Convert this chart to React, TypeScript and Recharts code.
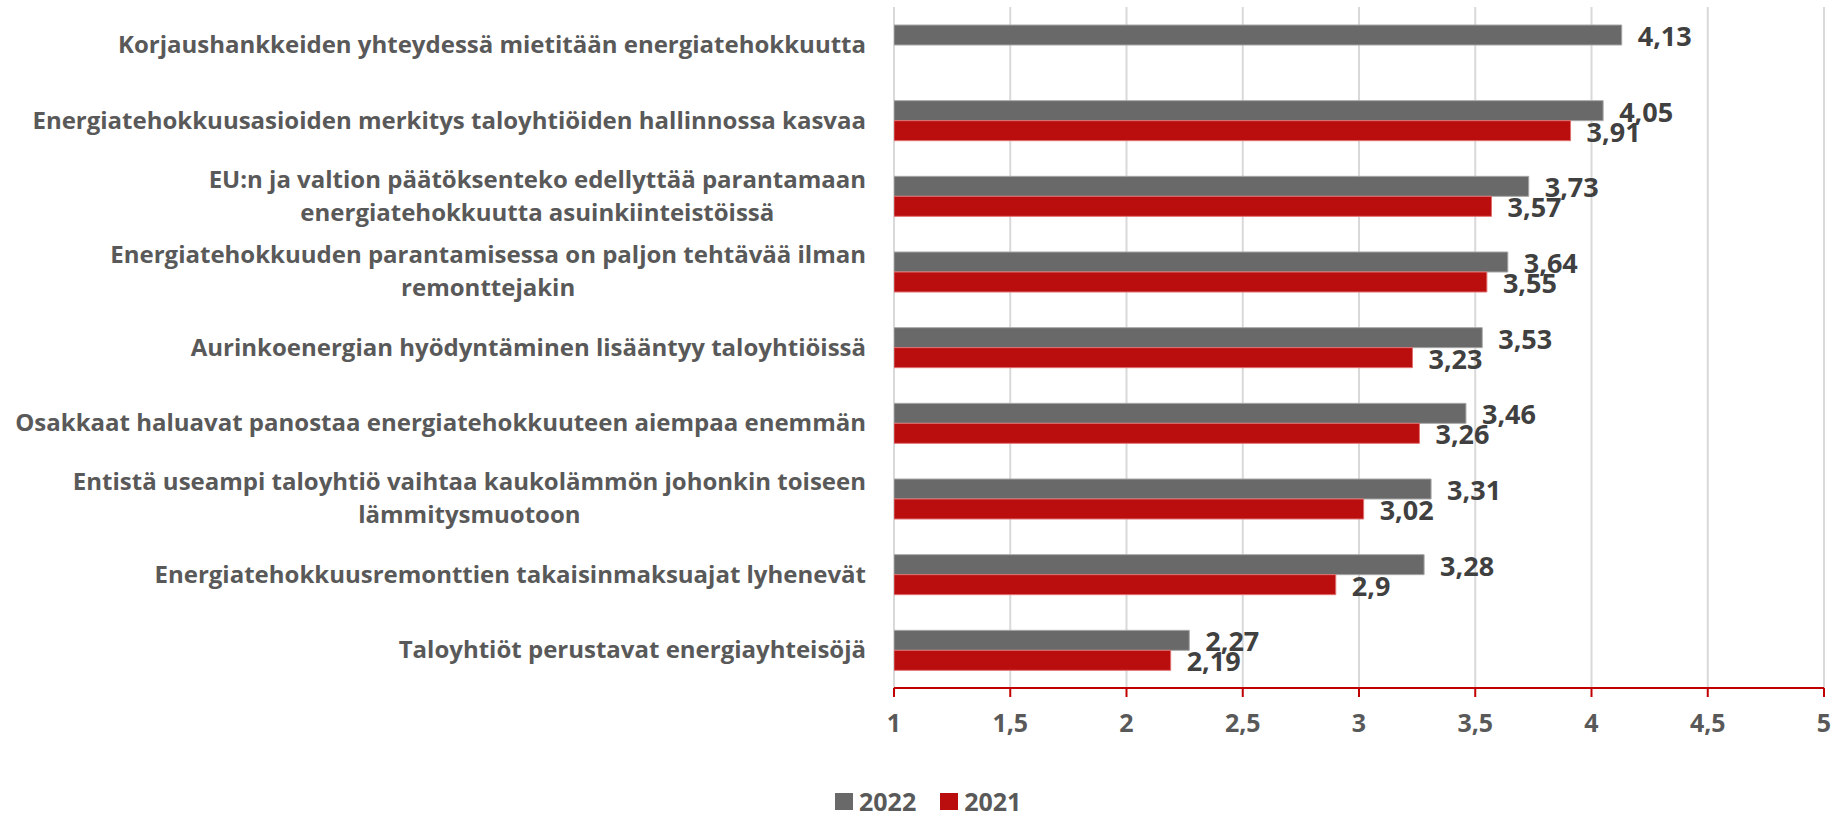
import React from 'react';
import { BarChart, Bar, XAxis, YAxis, CartesianGrid, LabelList } from 'recharts';

const categories: string[] = [
  'Korjaushankkeiden yhteydessä mietitään energiatehokkuutta',
  'Energiatehokkuusasioiden merkitys taloyhtiöiden hallinnossa kasvaa',
  'EU:n ja valtion päätöksenteko edellyttää parantamaan\nenergiatehokkuutta asuinkiinteistöissä',
  'Energiatehokkuuden parantamisessa on paljon tehtävää ilman\nremonttejakin',
  'Aurinkoenergian hyödyntäminen lisääntyy taloyhtiöissä',
  'Osakkaat haluavat panostaa energiatehokkuuteen aiempaa enemmän',
  'Entistä useampi taloyhtiö vaihtaa kaukolämmön johonkin toiseen\nlämmitysmuotoon',
  'Energiatehokkuusremonttien takaisinmaksuajat lyhenevät',
  'Taloyhtiöt perustavat energiayhteisöjä',
];
const values2022: (number | null)[] = [4.13, 4.05, 3.73, 3.64, 3.53, 3.46, 3.31, 3.28, 2.27];
const values2021: (number | null)[] = [null, 3.91, 3.57, 3.55, 3.23, 3.26, 3.02, 2.9, 2.19];
const xTicks: number[] = [1, 1.5, 2, 2.5, 3, 3.5, 4, 4.5, 5];
const seriesNames: string[] = ['2022', '2021'];

const GRAY = '#696969';
const RED = '#BA0E0E';
const FONT = "'Open Sans', sans-serif";
const LABEL_COLOR = '#595959';

const data = categories.map((name, i) => ({
  name,
  v2022: values2022[i],
  v2021: values2021[i],
}));

const fmt = (v: any) => (v === null || v === undefined ? '' : String(v).replace('.', ','));

let ctx: CanvasRenderingContext2D | null = null;
function measure(text: string, font: string): number {
  if (!ctx) {
    const c = document.createElement('canvas');
    ctx = c.getContext('2d');
  }
  if (!ctx) return text.length * 12;
  ctx.font = font;
  return ctx.measureText(text).width;
}

const CAT_SIZE = 24;
const CatTick = (props: any) => {
  const { x, y, payload } = props;
  const lines: string[] = String(payload.value).split('\n');
  const font = `bold ${CAT_SIZE}px ${FONT}`;
  const widths = lines.map((l) => measure(l, font));
  const block = Math.max(...widths);
  const right = x - 28;
  const cx = right - block / 2;
  const n = lines.length;
  const lh = 33;
  return (
    <g>
      {lines.map((l, i) => (
        <text
          key={i}
          x={n === 1 ? right : cx}
          y={y + 8 + (i - (n - 1) / 2) * lh}
          textAnchor={n === 1 ? 'end' : 'middle'}
          fill={LABEL_COLOR}
          fontFamily={FONT}
          fontWeight="bold"
          fontSize={CAT_SIZE}
        >
          {l}
        </text>
      ))}
    </g>
  );
};

const XTick = (props: any) => {
  const { x, y, payload } = props;
  return (
    <text
      x={x}
      y={y + 33}
      textAnchor="middle"
      fill={LABEL_COLOR}
      fontFamily={FONT}
      fontWeight="bold"
      fontSize={25}
    >
      {fmt(payload.value)}
    </text>
  );
};

const ValueLabel = (props: any) => {
  const { x, y, width, height, value } = props;
  if (value === null || value === undefined) return null;
  return (
    <text
      x={x + width + 16}
      y={y + height / 2 + 11}
      textAnchor="start"
      fill="#404040"
      fontFamily={FONT}
      fontWeight="bold"
      fontSize={27}
    >
      {fmt(value)}
    </text>
  );
};

export default function App() {
  const colors = [GRAY, RED];
  return (
    <div style={{ position: 'absolute', left: 0, top: 0, width: 1835, height: 814, background: '#fff', overflow: 'hidden' }}>
      <BarChart
        width={1835}
        height={814}
        data={data}
        layout="vertical"
        margin={{ top: 7, right: 11, bottom: 66, left: 0 }}
        barSize={20}
        barGap={0}
      >
        <CartesianGrid horizontal={false} stroke="#D9D9D9" strokeWidth={2} />
        <XAxis
          type="number"
          domain={[1, 5]}
          ticks={xTicks}
          interval={0}
          height={60}
          axisLine={{ stroke: '#C00000', strokeWidth: 2 }}
          tickLine={{ stroke: '#C00000', strokeWidth: 2 }}
          tickSize={9}
          tick={<XTick />}
          allowDataOverflow
        />
        <YAxis
          type="category"
          dataKey="name"
          width={894}
          axisLine={false}
          tickLine={false}
          tickSize={0}
          tickMargin={0}
          interval={0}
          tick={<CatTick />}
        />
        <Bar dataKey="v2022" name={seriesNames[0]} fill={GRAY} stroke="#A6A6A6" strokeWidth={1} isAnimationActive={false}>
          <LabelList dataKey="v2022" content={<ValueLabel />} />
        </Bar>
        <Bar dataKey="v2021" name={seriesNames[1]} fill={RED} stroke="#E07070" strokeWidth={1} isAnimationActive={false}>
          <LabelList dataKey="v2021" content={<ValueLabel />} />
        </Bar>
      </BarChart>
      <div
        style={{
          position: 'absolute',
          left: 835,
          top: 791,
          height: 20,
          display: 'flex',
          alignItems: 'center',
          fontFamily: FONT,
          fontWeight: 'bold',
          fontSize: 25,
          color: LABEL_COLOR,
          whiteSpace: 'nowrap',
          lineHeight: '20px',
        }}
      >
        {seriesNames.map((s, i) => (
          <div key={s} style={{ display: 'flex', alignItems: 'center', marginRight: i === 0 ? 24 : 0 }}>
            <div style={{ width: 18, height: 17, background: colors[i], marginRight: 6 }} />
            <span>{s}</span>
          </div>
        ))}
      </div>
    </div>
  );
}
